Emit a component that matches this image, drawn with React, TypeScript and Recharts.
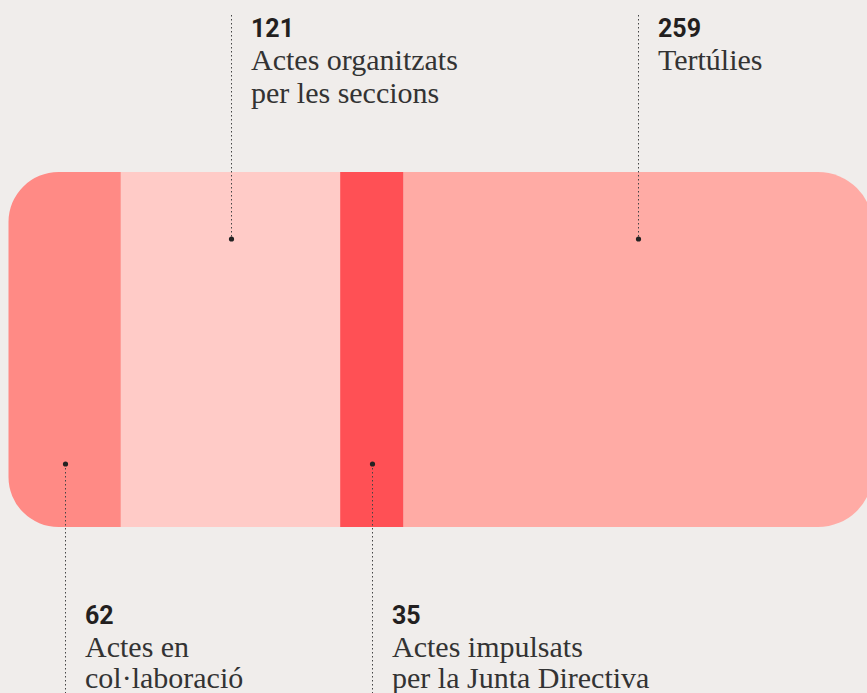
import React from 'react';
import { BarChart, Bar, XAxis, YAxis } from 'recharts';

const categories = ['Actes'];
const segmentKeys = ['collaboracio', 'seccions', 'junta', 'tertulies'];
const segmentValues = [62, 121, 35, 259];
const segmentNumbers = ['62', '121', '35', '259'];
const segmentLabelLines = [
  ['Actes en', 'col·laboració'],
  ['Actes organitzats', 'per les seccions'],
  ['Actes impulsats', 'per la Junta Directiva'],
  ['Tertúlies'],
];
const segmentColors = ['#ff8a85', '#ffcbc7', '#ff5055', '#ffaba5'];

const total = segmentValues.reduce((a, b) => a + b, 0);
const data = categories.map((c) => {
  const row: Record<string, any> = { name: c };
  segmentKeys.forEach((k, i) => (row[k] = segmentValues[i]));
  return row;
});

const BG = '#f0edeb';
const SERIF = '"Liberation Serif", "Times New Roman", serif';
const SANS = 'Roboto, "Liberation Sans", sans-serif';

function makeLabel(i: number) {
  return (props: any) => {
    const { x, y, width, height } = props;
    const cxRaw = Number(x) + Number(width) / 2;
    const cx = Math.round(cxRaw) + 0.5;
    const top = i % 2 === 1;
    const lines = segmentLabelLines[i];
    const tx = cx + 19.5;
    if (top) {
      const dotY = Number(y) + 67;
      return (
        <g>
          <line x1={cx} x2={cx} y1={15} y2={dotY} stroke="#444" strokeWidth={1} strokeDasharray="1.5 2.5" />
          <circle cx={cx} cy={dotY} r={2.6} fill="#222" />
          <text x={tx} y={37} fontFamily={SANS} fontWeight={700} fontSize={25} fill="#231f20">
            {segmentNumbers[i]}
          </text>
          {lines.map((l, j) => (
            <text key={j} x={tx} y={70 + j * 33} fontFamily={SERIF} fontSize={30} fill="#333">
              {l}
            </text>
          ))}
        </g>
      );
    }
    const dotY = Number(y) + Number(height) - 63;
    return (
      <g>
        <line x1={cx} x2={cx} y1={dotY} y2={693} stroke="#444" strokeWidth={1} strokeDasharray="1.5 2.5" />
        <circle cx={cx} cy={dotY} r={2.6} fill="#222" />
        <text x={tx} y={624} fontFamily={SANS} fontWeight={700} fontSize={25} fill="#231f20">
          {segmentNumbers[i]}
        </text>
        {lines.map((l, j) => (
          <text key={j} x={tx} y={657 + j * 31} fontFamily={SERIF} fontSize={30} fill="#333">
            {l}
          </text>
        ))}
      </g>
    );
  };
}

export default function App() {
  return (
    <div
      style={{
        position: 'absolute',
        left: 0,
        top: 0,
        width: 867,
        height: 693,
        overflow: 'hidden',
        background: BG,
      }}
    >
      <BarChart
        width={873}
        height={693}
        data={data}
        layout="vertical"
        margin={{ top: 172, right: 0, bottom: 166, left: 8.5 }}
        barCategoryGap={0}
        style={{ overflow: 'visible' }}
      >
        <XAxis type="number" domain={[0, total]} hide />
        <YAxis type="category" dataKey="name" hide />
        {segmentKeys.map((k, i) => (
          <Bar
            key={k}
            dataKey={k}
            stackId="a"
            fill={segmentColors[i]}
            isAnimationActive={false}
            radius={i === 0 ? [50, 0, 0, 50] : i === segmentKeys.length - 1 ? [0, 55, 55, 0] : 0}
            label={makeLabel(i)}
          />
        ))}
      </BarChart>
    </div>
  );
}
